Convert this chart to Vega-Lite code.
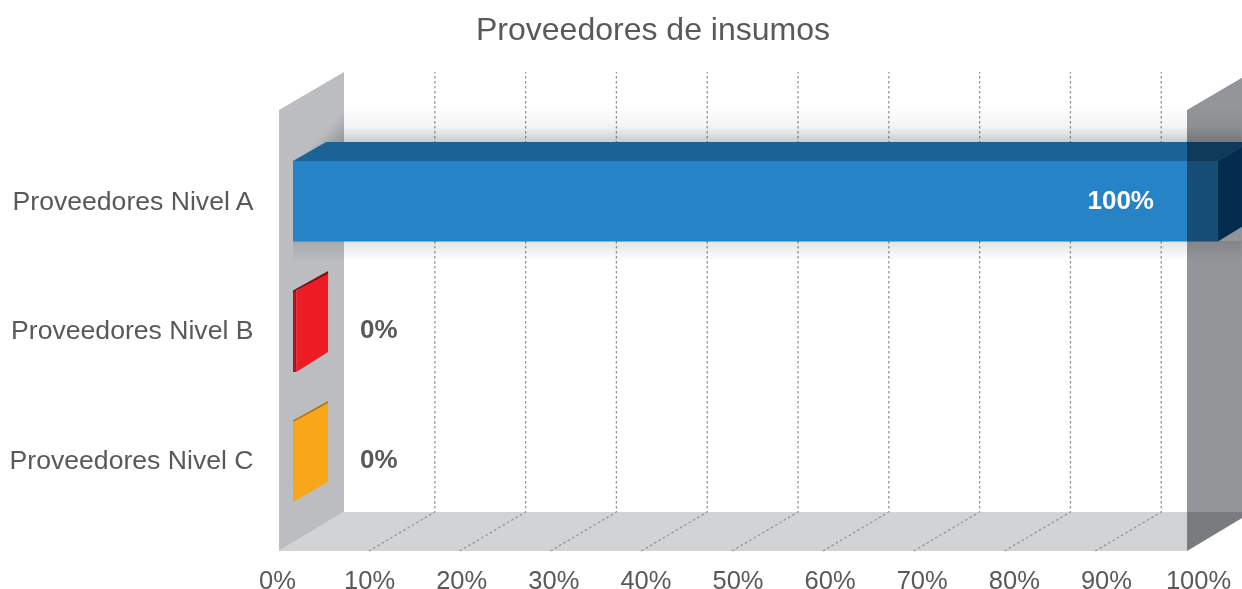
{
"$schema":"https://vega.github.io/schema/vega-lite/v6.json",
"width":908,"height":480,
"autosize":{"type":"none"},
"padding":{"left":279,"top":71,"right":55,"bottom":38},
"background":"white",
"title":{"text":"Proveedores de insumos","font":"Liberation Sans","fontSize":32,"fontWeight":"normal","color":"#58595b","anchor":"middle","frame":"group","dx":-80,"offset":22},
"config":{"view":{"stroke":null},"font":"Liberation Sans"},
"datasets":{
"walls":[
{"part":"leftwall","x":0,"y":0,"y2":441},
{"part":"leftwall","x":7.16,"y":39,"y2":479},
{"part":"floor","x":0,"y":0,"y2":0},
{"part":"floor","x":7.16,"y":0,"y2":39},
{"part":"floor","x":100,"y":0,"y2":39},
{"part":"floor","x":107.16,"y":39,"y2":39}
],
"rightwall":[
{"x":100,"y":0,"y2":441},
{"x":107.16,"y":39,"y2":479}
],
"grid":[
{"tick":10,"seq":1,"x":9.9,"y":0},{"tick":10,"seq":2,"x":17.16,"y":39},{"tick":10,"seq":3,"x":17.16,"y":479},
{"tick":20,"seq":1,"x":19.9,"y":0},{"tick":20,"seq":2,"x":27.16,"y":39},{"tick":20,"seq":3,"x":27.16,"y":479},
{"tick":30,"seq":1,"x":29.9,"y":0},{"tick":30,"seq":2,"x":37.16,"y":39},{"tick":30,"seq":3,"x":37.16,"y":479},
{"tick":40,"seq":1,"x":39.9,"y":0},{"tick":40,"seq":2,"x":47.16,"y":39},{"tick":40,"seq":3,"x":47.16,"y":479},
{"tick":50,"seq":1,"x":49.9,"y":0},{"tick":50,"seq":2,"x":57.16,"y":39},{"tick":50,"seq":3,"x":57.16,"y":479},
{"tick":60,"seq":1,"x":59.9,"y":0},{"tick":60,"seq":2,"x":67.16,"y":39},{"tick":60,"seq":3,"x":67.16,"y":479},
{"tick":70,"seq":1,"x":69.9,"y":0},{"tick":70,"seq":2,"x":77.16,"y":39},{"tick":70,"seq":3,"x":77.16,"y":479},
{"tick":80,"seq":1,"x":79.9,"y":0},{"tick":80,"seq":2,"x":87.16,"y":39},{"tick":80,"seq":3,"x":87.16,"y":479},
{"tick":90,"seq":1,"x":89.9,"y":0},{"tick":90,"seq":2,"x":97.16,"y":39},{"tick":90,"seq":3,"x":97.16,"y":479}
],
"bars3d":[
{"part":"orangeFace","x":1.54,"y":49,"y2":130},
{"part":"orangeFace","x":5.4,"y":69,"y2":149},
{"part":"orangeTop","x":1.54,"y":129,"y2":130.5},
{"part":"orangeTop","x":5.4,"y":148,"y2":150},
{"part":"redFront","x":1.54,"y":179,"y2":260},
{"part":"redFront","x":1.9,"y":179,"y2":260},
{"part":"redFace","x":1.9,"y":179,"y2":260},
{"part":"redFace","x":5.4,"y":199,"y2":279},
{"part":"redTop","x":1.54,"y":258.5,"y2":260.5},
{"part":"redTop","x":5.4,"y":277.5,"y2":280},
{"part":"blueFront","x":1.54,"y":309.5,"y2":390},
{"part":"blueFront","x":103.4,"y":309.5,"y2":390},
{"part":"blueTop","x":1.54,"y":390,"y2":390},
{"part":"blueTop","x":5.18,"y":390,"y2":409},
{"part":"blueTop","x":103.4,"y":390,"y2":409},
{"part":"blueTop","x":106.94,"y":409,"y2":409},
{"part":"blueSide","x":103.4,"y":309.5,"y2":390},
{"part":"blueSide","x":106.94,"y":329,"y2":409}
],
"shadows":[
{"zone":"wall","x":0,"x2":7.16,"y":385,"y2":445},
{"zone":"top","x":7.16,"x2":106,"y":390,"y2":445},
{"zone":"under","x":1.54,"x2":106,"y":290,"y2":310}
],
"bars":[
{"category":"Proveedores Nivel A","value":100,"label":"100%","at":92.7,"pos":350},
{"category":"Proveedores Nivel B","value":0,"label":"0%","at":11,"pos":221},
{"category":"Proveedores Nivel C","value":0,"label":"0%","at":11,"pos":91}
]
},
"resolve":{"scale":{"x":"independent","color":"independent"},"axis":{"y":"independent"}},
"layer":[
{"data":{"name":"walls"},"mark":{"type":"area","orient":"vertical"},
"encoding":{
"x":{"field":"x","type":"quantitative","scale":{"domain":[0,100],"nice":false,"zero":false},"axis":null},
"y":{"field":"y","type":"quantitative","scale":{"domain":[0,480],"nice":false,"zero":false},
 "axis":{"title":null,"values":[350,221,91],"labelExpr":"datum.value==350?'Proveedores Nivel A':datum.value==221?'Proveedores Nivel B':'Proveedores Nivel C'","domain":false,"ticks":false,"grid":false,"labelPadding":26,"labelLimit":400,"labelFontSize":26.6,"labelColor":"#58595b","labelFont":"Liberation Sans","labelBound":false,"labelOverlap":false}},
"y2":{"field":"y2"},
"color":{"field":"part","type":"nominal","legend":null,"scale":{"domain":["leftwall","floor"],"range":["#bcbdc0","#d1d3d4"]}}
}},
{"data":{"name":"grid"},"mark":{"type":"line","color":"#939598","strokeWidth":1.3,"strokeDash":[2.5,2.5]},
"encoding":{
"x":{"field":"x","type":"quantitative","scale":{"domain":[0,100],"nice":false,"zero":false},"axis":null},
"y":{"field":"y","type":"quantitative","axis":null},
"detail":{"field":"tick"},
"order":{"field":"seq"}
}},
{"data":{"name":"shadows"},
"transform":[{"filter":"datum.zone=='wall'"}],
"mark":{"type":"rect","blend":"multiply","color":{"gradient":"linear","x1":1,"y1":1,"x2":0.3,"y2":0.4,"stops":[{"offset":0,"color":"#c4c5c7"},{"offset":0.3,"color":"#cbccce"},{"offset":0.65,"color":"#ffffff"},{"offset":1,"color":"#ffffff"}]}},
"encoding":{
"x":{"field":"x","type":"quantitative","scale":{"domain":[0,100],"nice":false,"zero":false},"axis":null},
"x2":{"field":"x2"},
"y":{"field":"y","type":"quantitative","axis":null},
"y2":{"field":"y2"}
}},
{"data":{"name":"shadows"},
"transform":[{"filter":"datum.zone=='top'"}],
"mark":{"type":"rect","blend":"multiply","color":{"gradient":"linear","x1":0,"y1":0,"x2":0,"y2":1,"stops":[{"offset":0,"color":"#ffffff"},{"offset":0.38,"color":"#f3f3f4"},{"offset":0.65,"color":"#cbccce"},{"offset":1,"color":"#cbccce"}]}},
"encoding":{
"x":{"field":"x","type":"quantitative","scale":{"domain":[0,100],"nice":false,"zero":false},"axis":null},
"x2":{"field":"x2"},
"y":{"field":"y","type":"quantitative","axis":null},
"y2":{"field":"y2"}
}},
{"data":{"name":"shadows"},
"transform":[{"filter":"datum.zone=='under'"}],
"mark":{"type":"rect","blend":"multiply","color":{"gradient":"linear","x1":0,"y1":0,"x2":0,"y2":1,"stops":[{"offset":0,"color":"#e2e3e4"},{"offset":1,"color":"#ffffff"}]}},
"encoding":{
"x":{"field":"x","type":"quantitative","scale":{"domain":[0,100],"nice":false,"zero":false},"axis":null},
"x2":{"field":"x2"},
"y":{"field":"y","type":"quantitative","axis":null},
"y2":{"field":"y2"}
}},
{"data":{"name":"bars3d"},"mark":{"type":"area","orient":"vertical"},
"encoding":{
"x":{"field":"x","type":"quantitative","scale":{"domain":[0,100],"nice":false,"zero":false},"axis":null},
"y":{"field":"y","type":"quantitative","axis":null},
"y2":{"field":"y2"},
"color":{"field":"part","type":"nominal","legend":null,"scale":{"domain":["orangeFace","orangeTop","redFront","redFace","redTop","blueFront","blueTop","blueSide"],"range":["#faa61a","#a8750f","#b5121b","#ed1c24","#7d0f14","#2583c6","#1b6297","#044a82"]}}
}},
{"data":{"name":"rightwall"},"mark":{"type":"area","orient":"vertical","color":"#939598","blend":"multiply"},
"encoding":{
"x":{"field":"x","type":"quantitative","scale":{"domain":[0,100],"nice":false,"zero":false},"axis":null},
"y":{"field":"y","type":"quantitative","axis":null},
"y2":{"field":"y2"}
}},
{"data":{"name":"bars"},"mark":{"type":"text","fontWeight":"bold","fontSize":26,"font":"Liberation Sans","baseline":"middle","align":"center"},
"encoding":{
"x":{"field":"at","type":"quantitative","scale":{"domain":[0,100],"nice":false,"zero":false},"axis":null},
"y":{"field":"pos","type":"quantitative","axis":null},
"text":{"field":"label"},
"color":{"condition":{"test":"datum.value==100","value":"#ffffff"},"value":"#58595b"}
}},
{"data":{"name":"bars"},"mark":{"type":"point","opacity":0},
"encoding":{
"x":{"field":"value","type":"quantitative","scale":{"domain":[0,100],"range":[-2,919],"nice":false,"zero":false},
 "axis":{"title":null,"orient":"bottom","values":[0,10,20,30,40,50,60,70,80,90,100],"labelExpr":"datum.value+'%'","domain":false,"ticks":false,"grid":false,"labelPadding":17,"labelFontSize":25.5,"labelColor":"#58595b","labelFont":"Liberation Sans","labelBound":false,"labelFlush":false,"labelOverlap":false}},
"y":{"field":"pos","type":"quantitative","axis":null}
}}
]
}
